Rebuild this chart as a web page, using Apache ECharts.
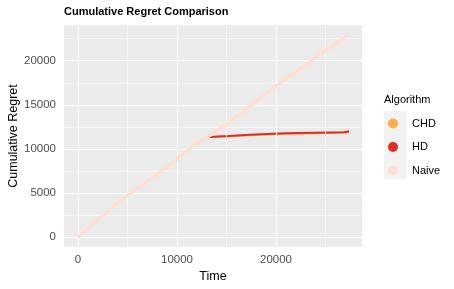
<!DOCTYPE html>
<html>
<head>
<meta charset="utf-8">
<script src="https://cdn.jsdelivr.net/npm/echarts@6/dist/echarts.min.js"></script>
<style>html,body{margin:0;padding:0;background:#fff}#c{width:454px;height:289px}</style>
</head>
<body>
<div id="c"></div>
<script>
// ---- data ----
const seriesNames = ['CHD', 'HD', 'Naive'];
const chdData = [[13000,11330],[13350,11450],[15350,11600],[18200,11760],[22930,11880],[27400,11880]];
const hdData = [[13000,11360],[13230,11470],[15180,11620],[17370,11780],[20910,11890],[26900,12000],[27370,12000]];
const naiveData = [[0,0],[2520,2500],[5000,4750],[8400,7450],[11240,10000],[15000,12800],[20000,17150],[25000,21150],[27250,22880]];
const xTicks = [0, 10000, 20000];
const yTicks = [0, 5000, 10000, 15000, 20000];
const xMinor = [5000, 15000, 25000];
const yMinor = [2500, 7500, 12500, 17500, 22500];

const FONT = 'Liberation Sans, Arial, sans-serif';
const colors = ['#FDAE4A', '#DE2D26', '#FEE0D2'];

const gridLines = [];
xMinor.forEach(v => gridLines.push({xAxis: v, lineStyle: {width: 0.6}}));
yMinor.forEach(v => gridLines.push({yAxis: v, lineStyle: {width: 0.6}}));
xTicks.forEach(v => gridLines.push({xAxis: v, lineStyle: {width: 1.1}}));
yTicks.forEach(v => gridLines.push({yAxis: v, lineStyle: {width: 1.1}}));

const chart = echarts.init(document.getElementById('c'), null, {renderer: 'canvas'});
chart.setOption({
  animation: false,
  textStyle: {fontFamily: FONT},
  title: [
    {text: 'Cumulative Regret Comparison', left: 64, top: 6, padding: 0,
     textStyle: {fontSize: 11, fontWeight: 'bold', color: '#000', fontFamily: FONT}},
    {text: 'Algorithm', left: 384, top: 94, padding: 0,
     textStyle: {fontSize: 11, fontWeight: 'normal', color: '#000', fontFamily: FONT}}
  ],
  graphic: [{type: 'rect', left: 384, top: 111, shape: {width: 22.5, height: 68},
             style: {fill: '#F2F2F2'}, z: -1}],
  legend: {
    orient: 'vertical', left: 388, top: 118, itemWidth: 10, itemHeight: 10, itemGap: 12.5,
    icon: 'circle', padding: 0,
    data: seriesNames,
    textStyle: {fontSize: 11, color: '#000', fontFamily: FONT, padding: [0, 0, 0, 9]}
  },
  grid: {left: 64, right: 92, top: 25, bottom: 42, show: true, backgroundColor: '#EBEBEB', borderWidth: 0,
         containLabel: false, outerBoundsMode: 'none'},
  xAxis: {
    type: 'value', min: -1414, max: 28687,
    name: 'Time', nameLocation: 'middle', nameGap: 23.5, nameMoveOverlap: false,
    nameTextStyle: {fontSize: 12.5, color: '#000', fontFamily: FONT},
    axisLine: {show: false},
    axisTick: {show: true, length: 4, lineStyle: {color: '#333', width: 1}, customValues: xTicks},
    axisLabel: {margin: 7, fontSize: 11.5, color: '#4D4D4D', fontFamily: FONT, customValues: xTicks,
                formatter: v => String(v)},
    splitLine: {show: false}
  },
  yAxis: {
    type: 'value', min: -1098, max: 24043,
    name: 'Cumulative Regret', nameLocation: 'middle', nameGap: 44, nameMoveOverlap: false,
    nameTextStyle: {fontSize: 12.5, color: '#000', fontFamily: FONT},
    axisLine: {show: false},
    axisTick: {show: true, length: 4, lineStyle: {color: '#333', width: 1}, customValues: yTicks},
    axisLabel: {margin: 8, fontSize: 11.5, color: '#4D4D4D', fontFamily: FONT, customValues: yTicks,
                formatter: v => String(v)},
    splitLine: {show: false}
  },
  series: [
    {type: 'line', name: '_grid', data: [], silent: true, z: 1,
     markLine: {silent: true, symbol: 'none', label: {show: false},
                lineStyle: {color: '#FFFFFF', type: 'solid'}, data: gridLines}},
    {type: 'line', name: 'CHD', data: chdData, step: 'end', showSymbol: false, z: 3,
     color: colors[0], lineStyle: {width: 2, color: colors[0]}},
    {type: 'line', name: 'HD', data: hdData, step: 'end', showSymbol: false, z: 4,
     color: colors[1], lineStyle: {width: 2, color: colors[1]}},
    {type: 'line', name: 'Naive', data: naiveData, showSymbol: false, z: 5,
     color: colors[2], lineStyle: {width: 3.5, color: colors[2]}}
  ]
});
</script>
</body>
</html>
